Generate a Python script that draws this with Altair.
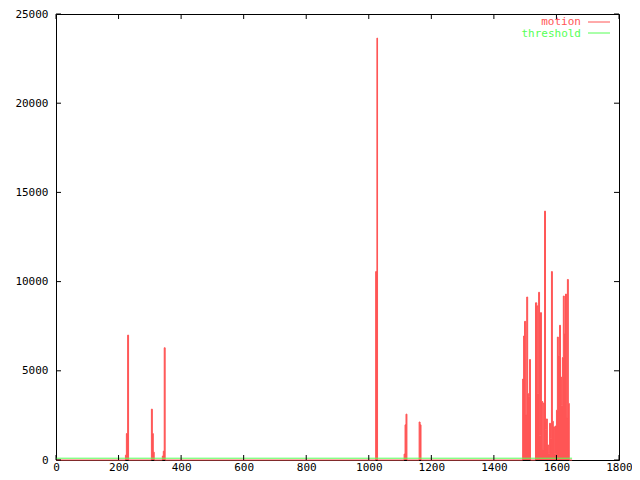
import altair as alt
import pandas as pd

# motion series (step values, frame where each value starts)
frames = [0, 222, 225, 229, 232, 305, 308, 311, 314, 340, 343, 346, 349,
          1022, 1026, 1028, 1113, 1116, 1119, 1122, 1161, 1164, 1167,
          1492, 1495, 1498, 1502, 1505, 1508, 1511, 1514, 1517,
          1533, 1537, 1540, 1543, 1546, 1549, 1552, 1556, 1559, 1562,
          1565, 1568, 1571, 1575, 1578, 1581, 1584, 1587, 1590, 1594,
          1597, 1600, 1603, 1606, 1610, 1613, 1616, 1619, 1622, 1625,
          1629, 1632, 1635, 1638, 1641, 1650]
motion = [0, 270, 1480, 7000, 0, 2850, 1480, 440, 0, 220, 490, 6290, 0,
          10560, 23650, 0, 330, 1970, 2570, 0, 2130, 1970, 0,
          4540, 6950, 7770, 2520, 9135, 3720, 3570, 5630, 0,
          8810, 8640, 3720, 9400, 1380, 8260, 3280, 600, 3200, 13950,
          1700, 2300, 840, 380, 2060, 1200, 10560, 2170, 1860, 380,
          1910, 2790, 6890, 5850, 7550, 4650, 3060, 5740, 9190, 7060,
          9300, 2350, 10120, 3170, 0, 0]

threshold_frames = [0, 1650]
threshold_values = [100, 100]

x_ticks = [0, 200, 400, 600, 800, 1000, 1200, 1400, 1600, 1800]
y_ticks = [0, 5000, 10000, 15000, 20000, 25000]

legend_labels = ["motion", "threshold"]

RED = "#ff5555"
GREEN = "#55ff55"
W, H = 563, 446
FONT = "DejaVu Sans Mono"

motion_df = pd.DataFrame({"frame": frames, "motion": motion})
thr_df = pd.DataFrame({"frame": threshold_frames, "motion": threshold_values})
xt_df = pd.DataFrame({"frame": x_ticks})
yt_df = pd.DataFrame({"motion": y_ticks})

xscale = alt.Scale(domain=[0, 1800], nice=False, zero=False)
yscale = alt.Scale(domain=[0, 25000], nice=False)

x_axis = alt.Axis(values=x_ticks, title=None, labelPadding=1, labelFlush=False,
                  labelOverlap=False, format="d")
y_axis = alt.Axis(values=y_ticks, title=None, labelPadding=8, labelFlush=False,
                  labelOverlap=False, format="d")

X = alt.X("frame:Q", scale=xscale, axis=x_axis)
Y = alt.Y("motion:Q", scale=yscale, axis=y_axis)

area = alt.Chart(motion_df).mark_area(
    interpolate="step-after", color=RED, opacity=1
).encode(x=X, y=Y)

line = alt.Chart(motion_df).mark_line(
    interpolate="step-after", color=RED, strokeWidth=1
).encode(x=X, y=Y)

thr = alt.Chart(thr_df).mark_line(color=GREEN, strokeWidth=1).encode(x=X, y=Y)

tick_len = 5
ytick_left = alt.Chart(yt_df).mark_rule(color="black", strokeWidth=1).encode(
    y=Y, x=alt.value(0), x2=alt.value(tick_len),
)
ytick_right = alt.Chart(yt_df).mark_rule(color="black", strokeWidth=1).encode(
    y=Y, x=alt.value(W - tick_len), x2=alt.value(W),
)
xtick_bottom = alt.Chart(xt_df).mark_rule(color="black", strokeWidth=1).encode(
    x=X, y=alt.value(H - tick_len), y2=alt.value(H),
)
xtick_top = alt.Chart(xt_df).mark_rule(color="black", strokeWidth=1).encode(
    x=X, y=alt.value(0), y2=alt.value(tick_len),
)

leg_df = pd.DataFrame({"t": legend_labels})
leg_text_motion = alt.Chart(leg_df).transform_filter(
    alt.datum.t == legend_labels[0]
).mark_text(
    align="right", baseline="middle", font=FONT, fontSize=11, color=RED
).encode(text="t:N", x=alt.value(525), y=alt.value(7.5))
leg_line_motion = alt.Chart(leg_df).transform_filter(
    alt.datum.t == legend_labels[0]
).mark_rule(color=RED, strokeWidth=1).encode(
    x=alt.value(532), x2=alt.value(554), y=alt.value(8))
leg_text_thr = alt.Chart(leg_df).transform_filter(
    alt.datum.t == legend_labels[1]
).mark_text(
    align="right", baseline="middle", font=FONT, fontSize=11, color=GREEN
).encode(text="t:N", x=alt.value(525), y=alt.value(19.5))
leg_line_thr = alt.Chart(leg_df).transform_filter(
    alt.datum.t == legend_labels[1]
).mark_rule(color=GREEN, strokeWidth=1).encode(
    x=alt.value(532), x2=alt.value(554), y=alt.value(19))

chart = alt.layer(
    area, line, thr,
    ytick_left, ytick_right, xtick_bottom, xtick_top,
    leg_text_motion, leg_line_motion, leg_text_thr, leg_line_thr,
).properties(
    width=W, height=H,
    autosize="none",
    padding={"left": 48, "top": 6, "right": 13, "bottom": 12},
    background="white",
).configure_view(
    stroke="black", strokeWidth=1
).configure_axis(
    domain=False, ticks=False, grid=False,
    labelFont=FONT, labelFontSize=11, labelColor="black",
)

chart.save("out.html", embed_options={"renderer": "svg", "actions": False})
